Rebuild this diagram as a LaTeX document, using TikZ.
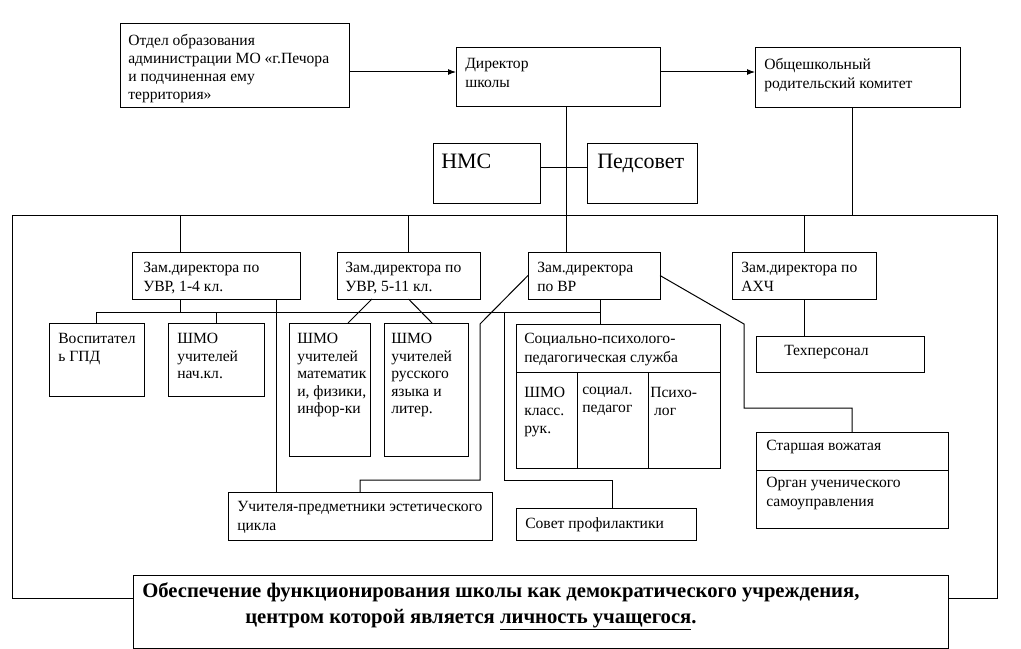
\documentclass[tikz,border=0pt]{standalone}
\usepackage{fontspec}
\setmainfont{Liberation Serif}
\usetikzlibrary{calc,arrows.meta}
\newcommand\orgbox[5]{\node[boxst, minimum width={(#4-#2)*0.75pt}, minimum height={(#5-#3)*0.75pt}] (#1) at (#2,#3) {};}
\begin{document}
\begin{tikzpicture}[x=0.75pt,y=-0.75pt,
  boxst/.style={draw, line width=0.75pt, fill=white, inner sep=0pt, outer sep=0pt, anchor=north west},
  txt/.style={anchor=north west, inner sep=0pt, align=left, font=\fontsize{11.7}{14.4}\selectfont},
  txta/.style={txt, font=\fontsize{11.7}{13.6}\selectfont},
  txtn/.style={txt, font=\fontsize{11.7}{13.2}\selectfont},
  txtm/.style={txt, font=\fontsize{11.7}{13.6}\selectfont},
  bigt/.style={anchor=base west, inner sep=0pt, font=\fontsize{16.5}{19}\selectfont},
  boldt/.style={anchor=base west, inner sep=0pt, font=\bfseries\fontsize{15.5}{19}\selectfont},
  ln/.style={line width=0.75pt},
  arr/.style={ln, -{Latex[length=6pt,width=4.5pt]}}]
\useasboundingbox (0,0) rectangle (1021,649);

% helper coordinates
\coordinate (y72) at (0,72);
\coordinate (y168) at (0,168);
\coordinate (bus) at (0,312);
\coordinate (y324) at (0,324);
\coordinate (y372) at (0,372);
\coordinate (y408) at (0,408);
\coordinate (y470) at (0,470);
\coordinate (y480) at (0,480);
\coordinate (x180) at (180,0);
\coordinate (x276) at (276,0);
\coordinate (x348) at (348,0);
\coordinate (x360) at (360,0);
\coordinate (x372) at (372,0);
\coordinate (x432) at (432,0);
\coordinate (x480) at (480,0);
\coordinate (x504) at (504,0);
\coordinate (x566) at (566,0);
\coordinate (x577) at (577,0);
\coordinate (x600) at (600,0);
\coordinate (x612) at (612,0);
\coordinate (x648) at (648,0);
\coordinate (x744) at (744,0);
\coordinate (x852) at (852,0);

% frame
\orgbox{frame}{12}{216}{997}{598}

% boxes
\orgbox{A}{120}{24}{349}{108}
\orgbox{dir}{456}{48}{660}{107}
\orgbox{par}{755}{48}{960}{108}
\orgbox{nms}{433}{144}{540}{204}
\orgbox{ped}{587}{144}{697}{204}
\orgbox{z1}{132}{252}{300}{299}
\orgbox{z2}{337}{252}{480}{299}
\orgbox{z3}{528}{252}{660}{299}
\orgbox{z4}{732}{252}{876}{299}
\orgbox{vosp}{49}{323}{144}{396}
\orgbox{shn}{168}{323}{264}{396}
\orgbox{shm}{289}{323}{370}{456}
\orgbox{shr}{384}{323}{468}{456}
\orgbox{soc}{516}{324}{720}{468}
\orgbox{tech}{756}{336}{924}{372}
\orgbox{star}{756}{432}{948}{528}
\orgbox{uch}{228}{492}{492}{540}
\orgbox{sov}{516}{508}{696}{540}
\orgbox{bot}{133}{575}{948}{648}

% inner dividers
\draw[ln] (soc.west |- y372) -- (soc.east |- y372);
\draw[ln] (x577 |- y372) -- (soc.south -| x577);
\draw[ln] (x648 |- y372) -- (soc.south -| x648);
\draw[ln] (star.west |- y470) -- (star.east |- y470);

% texts
\node[txta] (At) at ($(A.north west)+(8,10)$) {Отдел образования\\администрации МО «г.Печора\\и подчиненная ему\\территория»};
\node[txt] (dirt) at ($(dir.north west)+(9,10)$) {Директор\\школы};
\node[txt] (part) at ($(par.north west)+(9,10)$) {Общешкольный\\родительский комитет};
\node[bigt] (nmst) at ($(nms.north west)+(8,25)$) {НМС};
\node[bigt] (pedt) at ($(ped.north west)+(10,25)$) {Педсовет};
\node[txt] (z1t) at ($(z1.north west)+(11,10)$) {Зам.директора по\\УВР, 1-4 кл.};
\node[txt] (z2t) at ($(z2.north west)+(8,10)$) {Зам.директора по\\УВР, 5-11 кл.};
\node[txt] (z3t) at ($(z3.north west)+(9,10)$) {Зам.директора\\по ВР};
\node[txt] (z4t) at ($(z4.north west)+(9,10)$) {Зам.директора по\\АХЧ};
\node[txtn] (vospt) at ($(vosp.north west)+(9,10)$) {Воспитател\\ь ГПД};
\node[txtn] (shnt) at ($(shn.north west)+(9,10)$) {ШМО\\учителей\\нач.кл.};
\node[txtn] (shmt) at ($(shm.north west)+(8,10)$) {ШМО\\учителей\\математик\\и, физики,\\инфор-ки};
\node[txtn] (shrt) at ($(shr.north west)+(7,10)$) {ШМО\\учителей\\русского\\языка и\\литер.};
\node[txt] (soct) at ($(soc.north west)+(8,9)$) {Социально-психолого-\\педагогическая служба};
\node[txtm] (soc1t) at ($(soc.west |- y372)+(8,15)$) {ШМО\\класс.\\рук.};
\node[txtm] (soc2t) at ($(x577 |- y372)+(5,15)$) {социал.\\педагог};
\node[txtm] (soc3t) at ($(x648 |- y372)+(2,15)$) {Психо-\\\ лог};
\node[txt] (techt) at ($(tech.north west)+(28,9)$) {Техперсонал};
\node[txt] (start) at ($(star.north west)+(10,8)$) {Старшая вожатая};
\node[txt] (star2t) at ($(star.west |- y470)+(10,7)$) {Орган ученического\\самоуправления};
\node[txt] (ucht) at ($(uch.north west)+(9,9)$) {Учителя-предметники эстетического\\цикла};
\node[txt] (sovt) at ($(sov.north west)+(9,9)$) {Совет профилактики};
\node[boldt] (bt1) at (142,597) {Обеспечение функционирования школы как демократического учреждения,};
\node[boldt] (bt2) at (245,623) {центром которой является \underline{личность учащегося}.};

% connectors
\draw[arr] (A.east |- y72) -- (dir.west |- y72);
\draw[arr] (dir.east |- y72) -- (par.west |- y72);
\draw[ln] (dir.south -| x566) -- (z3.north -| x566);
\draw[ln] (nms.east |- y168) -- (ped.west |- y168);
\draw[ln] (par.south -| x852) -- (frame.north -| x852);
\draw[ln] (frame.north -| x180) -- (z1.north -| x180);
\draw[ln] (frame.north -| z2.north) -- (z2.north);
\draw[ln] (frame.north -| z4.north) -- (z4.north);
\draw[ln] (z1.south -| x180) -- (bus -| x180);
\draw[ln] (vosp.north) |- (bus -| x600);
\draw[ln] (shn.north) -- (shn.north |- bus);
\draw[ln] (z3.south -| x600) -- (soc.north -| x600);
\draw[ln] (z1.south -| x276) -- (uch.north -| x276);
\draw[ln] (z2.south -| x372) -- (shm.north -| x348);
\draw[ln] (z2.south) -- (shr.north -| x432);
\draw[ln] (z3.west) -- (x480 |- y324) -- (x480 |- y480) -| (uch.north -| x360);
\draw[ln] (bus -| x504) -- (x504 |- y480) -| (sov.north -| x612);
\draw[ln] (z3.east) -- (x744 |- y324) |- (x852 |- y408) -- (star.north -| x852);
\draw[ln] (z4.south) -- (z4.south |- tech.north);
\end{tikzpicture}
\end{document}
